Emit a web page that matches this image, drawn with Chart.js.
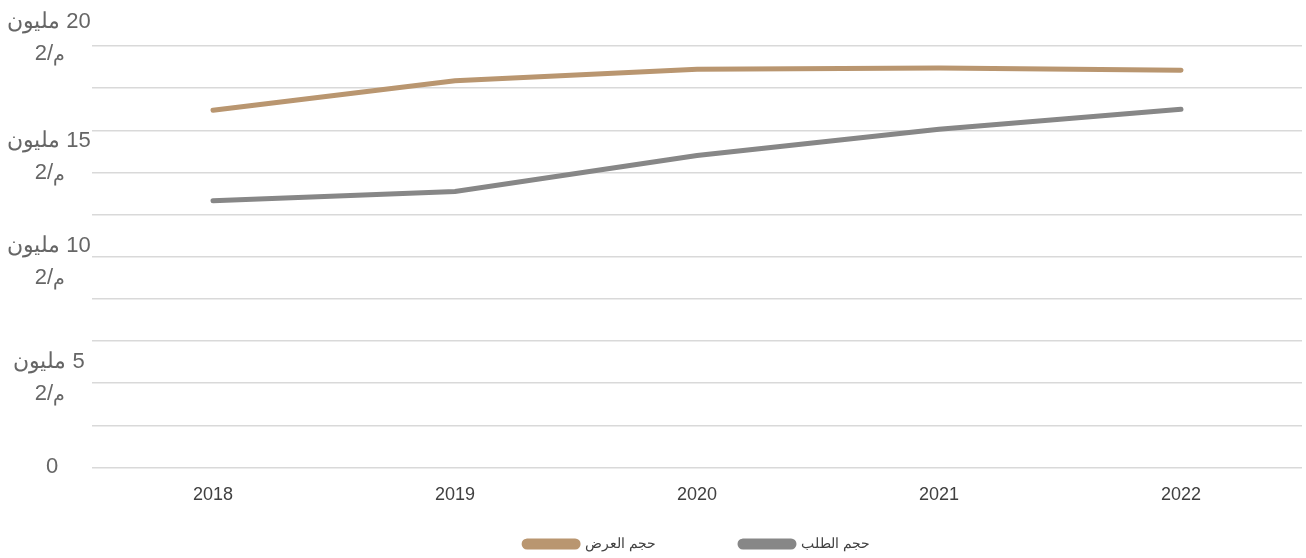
<!DOCTYPE html>
<html>
<head>
<meta charset="utf-8">
<script src="https://cdn.jsdelivr.net/npm/chart.js@4.4.1/dist/chart.umd.min.js"></script>
<style>
  html, body { margin: 0; padding: 0; background: #fff; }
  #wrap { width: 1306px; height: 558px; position: relative; }
</style>
</head>
<body>
<div id="wrap"><canvas id="chart"></canvas></div>
<script>
// years on the x axis
const years = ["2018", "2019", "2020", "2021", "2022"];

// values in square metres
const supplyVolume = [16950000, 18350000, 18900000, 18950000, 18850000];
const demandVolume = [12650000, 13100000, 14800000, 16050000, 17000000];

const seriesNames = ["حجم العرض", "حجم الطلب"];

// y axis labels (millions): number, word, unit
const yLabelValues = [0, 5, 10, 15, 20];
const unitWord = "مليون";
const unitNum = "2/";
const unitLetter = "م";

const TAN = "#B99670";
const GREY = "#878787";
const FONT = "'Liberation Sans', Arial, sans-serif";
const YFONT = "22px " + FONT;
const UFONT = "19px " + FONT;

// excel put the two-line labels a bit unevenly
const yLabelNudge = { 0: 0, 5: 10, 10: -1, 15: 0, 20: -14 };

// y labels drawn by hand: arabic word on the left, number on the right
const yLabelsPlugin = {
  id: "yLabels",
  afterDraw(chart) {
    const ctx = chart.ctx;
    const y = chart.scales.y;
    const cx = 49;
    ctx.save();
    ctx.fillStyle = "#666666";
    ctx.textBaseline = "middle";
    ctx.textAlign = "left";
    yLabelValues.forEach(v => {
      const py = y.getPixelForValue(v * 1000000);
      ctx.font = YFONT;
      if (v === 0) {
        ctx.textAlign = "center";
        ctx.fillText("0", cx + 3, py);
        ctx.textAlign = "left";
        return;
      }
      const top = py - 10 + yLabelNudge[v];
      const num = " " + String(v);
      const w1 = ctx.measureText(unitWord).width;
      const w2 = ctx.measureText(num).width;
      let x = cx - (w1 + w2) / 2;
      ctx.fillText(unitWord, x, top);
      ctx.fillText(num, x + w1, top);
      const u1 = ctx.measureText(unitNum).width;
      ctx.font = UFONT;
      const u2 = ctx.measureText(unitLetter).width;
      x = cx + 1 - (u1 + u2) / 2;
      ctx.font = YFONT;
      ctx.fillText(unitNum, x, top + 32);
      ctx.font = UFONT;
      ctx.fillText(unitLetter, x + u1, top + 34);
    });
    ctx.restore();
  }
};

const ctx = document.getElementById("chart");

new Chart(ctx, {
  type: "line",
  data: {
    labels: years,
    datasets: [
      {
        label: seriesNames[0],
        data: supplyVolume,
        borderColor: TAN,
        backgroundColor: TAN,
        borderWidth: 5,
        borderCapStyle: "round",
        pointRadius: 0,
        tension: 0
      },
      {
        label: seriesNames[1],
        data: demandVolume,
        borderColor: GREY,
        backgroundColor: GREY,
        borderWidth: 5,
        borderCapStyle: "round",
        pointRadius: 0,
        tension: 0
      }
    ]
  },
  plugins: [yLabelsPlugin],
  options: {
    responsive: true,
    maintainAspectRatio: false,
    animation: false,
    layout: { padding: { top: 46, right: 4, left: 92, bottom: -3 } },
    plugins: {
      tooltip: { enabled: false },
      legend: {
        position: "bottom",
        labels: {
          boxWidth: 54,
          boxHeight: 6,
          useBorderRadius: true,
          borderRadius: 3,
          padding: 0,
          color: "#404040",
          font: { family: FONT, size: 14 },
          generateLabels: (chart) => {
            const items = Chart.defaults.plugins.legend.labels.generateLabels(chart);
            // wider gap after the first item, like the original
            items[0].text = items[0].text + "\u2003\u2003\u2003\u2003\u2003\u2003\u200E";
            return items;
          }
        }
      }
    },
    scales: {
      x: {
        offset: true,
        grid: { display: false, drawTicks: false },
        border: { display: false },
        afterFit: (scale) => { scale.height += 14; },
        ticks: {
          color: "#404040",
          padding: 17,
          font: { family: FONT, size: 18 }
        }
      },
      y: {
        min: 0,
        max: 20000000,
        border: { display: false },
        afterFit: (scale) => { scale.width = 0; },
        grid: {
          drawTicks: false,
          lineWidth: 1.5,
          color: "#D9D9D9"
        },
        ticks: {
          display: false,
          stepSize: 2000000
        }
      }
    }
  }
});
</script>
</body>
</html>
